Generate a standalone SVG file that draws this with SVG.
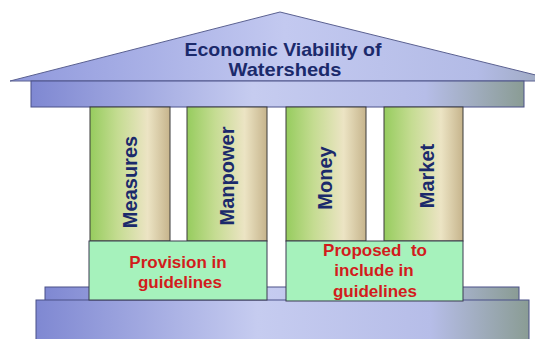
<svg xmlns="http://www.w3.org/2000/svg" width="535" height="339" viewBox="0 0 535 339">
  <defs>
    <linearGradient id="roofFill" x1="0" y1="0" x2="1" y2="0">
      <stop offset="0" stop-color="#8f98dc"/>
      <stop offset="0.5" stop-color="#c3c9f0"/>
      <stop offset="0.85" stop-color="#b3bbe6"/>
      <stop offset="1" stop-color="#9aa6b8"/>
    </linearGradient>
    <linearGradient id="beamFill" x1="0" y1="0" x2="1" y2="0">
      <stop offset="0" stop-color="#7f88d2"/>
      <stop offset="0.45" stop-color="#c6ccf0"/>
      <stop offset="0.8" stop-color="#b6bde8"/>
      <stop offset="1" stop-color="#8a9c94"/>
    </linearGradient>
    <linearGradient id="columnFill" x1="0" y1="0" x2="1" y2="0">
      <stop offset="0" stop-color="#96cc5e"/>
      <stop offset="0.35" stop-color="#c5dc92"/>
      <stop offset="0.72" stop-color="#ece4c4"/>
      <stop offset="1" stop-color="#c6b48c"/>
    </linearGradient>
    <style>
      .roof { fill: url(#roofFill); stroke: #5a6090; stroke-width: 1; }
      .beam { fill: url(#beamFill); stroke: #4a5088; stroke-width: 1; }
      .column { fill: url(#columnFill); stroke: #3a3a3a; stroke-width: 1; }
      .band { fill: #a6f2bc; stroke: #3a3a50; stroke-width: 1; }
      .title { font-family: "Liberation Sans", Arial, sans-serif; font-weight: bold; font-size: 19px; fill: #1b2a6b; text-anchor: middle; }
      .pillar { font-family: "Liberation Sans", Arial, sans-serif; font-weight: bold; font-size: 20px; fill: #1b2a6b; text-anchor: middle; }
      .note { font-family: "Liberation Sans", Arial, sans-serif; font-weight: bold; font-size: 17px; fill: #d21c1c; text-anchor: middle; }
    </style>
  </defs>

  <!-- base steps -->
  <g id="base">
    <rect class="beam" x="45" y="287" width="474" height="14"/>
    <rect class="beam" x="36" y="300" width="493" height="40"/>
  </g>

  <!-- roof: pediment and entablature -->
  <g id="roof">
    <polygon class="roof" points="280,12 10,81 560,81"/>
    <rect class="beam" x="31" y="81" width="493" height="26"/>
    <text class="title" x="283" y="56" textLength="197" lengthAdjust="spacingAndGlyphs">Economic Viability of</text>
    <text class="title" x="285" y="76" textLength="113" lengthAdjust="spacingAndGlyphs">Watersheds</text>
  </g>

  <!-- pillars -->
  <g id="measures">
    <rect class="column" x="90" y="107" width="80" height="134"/>
    <text class="pillar" transform="translate(137,182) rotate(-90)">Measures</text>
  </g>
  <g id="manpower">
    <rect class="column" x="187" y="107" width="80" height="134"/>
    <text class="pillar" transform="translate(234,176) rotate(-90)">Manpower</text>
  </g>
  <g id="money">
    <rect class="column" x="286" y="107" width="80" height="134"/>
    <text class="pillar" transform="translate(332,178) rotate(-90)">Money</text>
  </g>
  <g id="market">
    <rect class="column" x="384" y="107" width="79" height="134"/>
    <text class="pillar" transform="translate(434,176) rotate(-90)">Market</text>
  </g>

  <!-- guideline bands -->
  <g id="provision">
    <rect class="band" x="89" y="241" width="178" height="59"/>
    <text class="note" x="178" y="268">Provision in</text>
    <text class="note" x="180" y="288">guidelines</text>
  </g>
  <g id="proposed">
    <rect class="band" x="286" y="241" width="177" height="60"/>
    <text class="note" x="375" y="256" xml:space="preserve">Proposed  to</text>
    <text class="note" x="374" y="276">include in</text>
    <text class="note" x="375" y="297">guidelines</text>
  </g>

  <g id="connectors"/>
</svg>
